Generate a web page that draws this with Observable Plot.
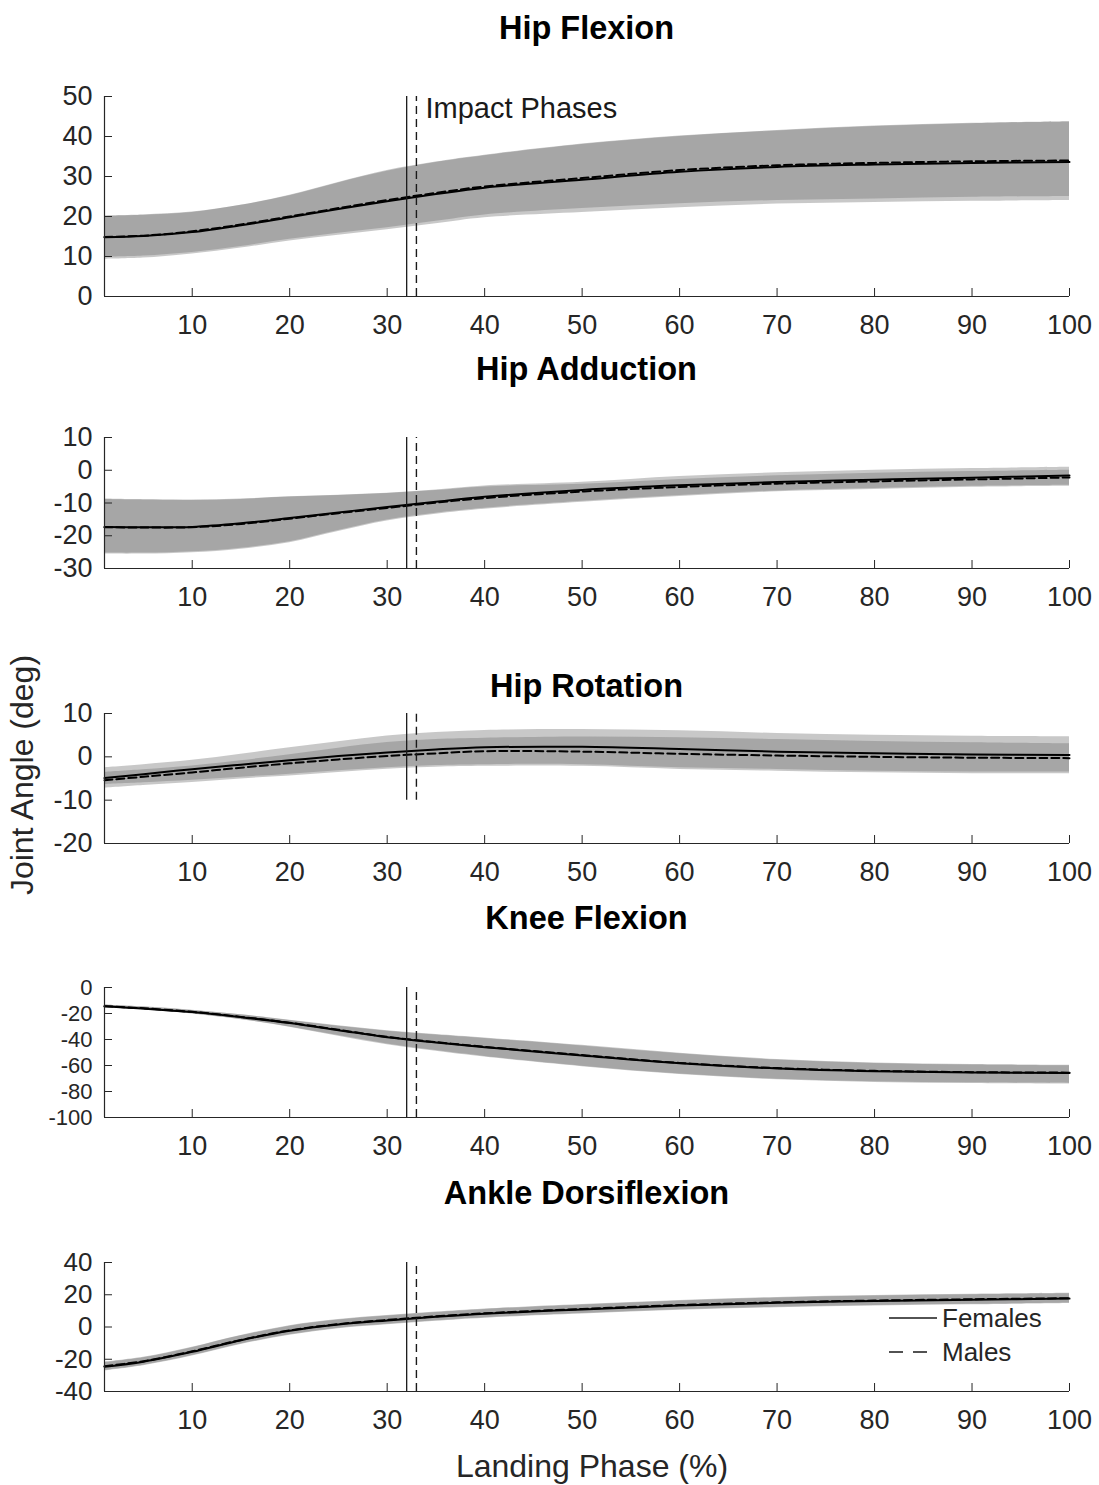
<!DOCTYPE html>
<html><head><meta charset="utf-8">
<script src="https://cdn.jsdelivr.net/npm/d3@7"></script>
<script src="https://cdn.jsdelivr.net/npm/@observablehq/plot@0.6"></script>
<style>
body{margin:0;background:#fff;}
#fig{position:relative;width:1099px;height:1485px;font-family:"Liberation Sans",Arial,Helvetica,sans-serif;overflow:hidden;}
#fig svg{position:absolute;left:0;}
.title{position:absolute;left:104px;width:965px;text-align:center;font-weight:bold;font-size:32.5px;color:#000;line-height:1;transform:translateY(-50%);}
.lab{position:absolute;font-size:32px;color:#262626;line-height:1;white-space:nowrap;}
.leg{position:absolute;font-size:26px;color:#262626;line-height:1;}
</style></head><body><div id="fig"></div>
<script>
// ---- data ----
const phase = [1,5,10,15,20,25,30,35,40,50,60,70,80,90,100];
const panelNames = ["Hip Flexion","Hip Adduction","Hip Rotation","Knee Flexion","Ankle Dorsiflexion"];
const yDomains = [[0,50],[-30,10],[-20,10],[-100,0],[-40,40]];
const yTickValues = [[0,10,20,30,40,50],[-30,-20,-10,0,10],[-20,-10,0,10],[-100,-80,-60,-40,-20,0],[-40,-20,0,20,40]];
const xTickValues = [10,20,30,40,50,60,70,80,90,100];
const impactFemales = 32, impactMales = 33;
const impactSpans = [[0,50],[-30,10],[-10,10],[-100,0],[-40,40]];
const seriesNames = ["Females","Males"];
const xLabel = "Landing Phase (%)", yLabel = "Joint Angle (deg)", impactLabel = "Impact Phases";

// Hip Flexion
const hfFm  = [14.8,15.1,16.1,17.8,19.8,21.9,23.8,25.6,27.2,29.2,31.2,32.4,33.0,33.4,33.6];
const hfMm  = [14.9,15.2,16.3,18.0,20.0,22.1,24.1,25.9,27.5,29.6,31.6,32.8,33.4,33.8,34.0];
const hfFhi = [20.2,20.4,21.1,22.8,25.2,28.4,31.3,33.5,35.2,38.0,40.0,41.4,42.5,43.2,43.6];
const hfFlo = [9.8,10.1,11.0,12.5,14.3,15.8,17.2,18.8,20.4,22.0,23.2,24.0,24.4,24.8,25.0];
const hfMhi = [20.0,20.3,21.0,22.8,25.3,28.5,31.5,33.6,35.3,38.1,40.1,41.5,42.6,43.3,43.7];
const hfMlo = [9.3,9.6,10.6,12.1,13.9,15.3,16.7,18.2,19.7,21.0,22.2,23.1,23.5,23.8,24.0];
// Hip Adduction
const haFm  = [-17.3,-17.4,-17.3,-16.2,-14.6,-12.9,-11.2,-9.6,-8.1,-6.0,-4.6,-3.6,-2.9,-2.3,-1.6];
const haMm  = [-17.4,-17.5,-17.4,-16.4,-14.8,-13.1,-11.5,-9.9,-8.5,-6.5,-5.1,-4.1,-3.4,-2.8,-2.2];
const haFhi = [-8.8,-9.0,-9.1,-8.8,-8.1,-7.6,-7.0,-6.0,-4.8,-3.7,-1.9,-0.8,0.0,0.5,0.9];
const haFlo = [-25.3,-25.3,-24.9,-23.8,-21.8,-18.4,-15.2,-13.1,-11.6,-9.5,-7.7,-6.3,-5.6,-4.9,-4.6];
const haMhi = [-8.9,-9.1,-9.2,-8.9,-8.2,-7.7,-7.1,-6.2,-5.1,-4.3,-2.8,-1.7,-0.9,-0.4,0.0];
const haMlo = [-25.6,-25.6,-25.2,-24.1,-22.1,-18.7,-15.5,-13.4,-11.9,-9.8,-8.0,-6.6,-5.9,-5.2,-4.9];
// Hip Rotation
const hrFm  = [-4.9,-4.0,-2.85,-1.8,-0.8,0.2,1.0,1.7,2.2,2.3,1.8,1.2,0.8,0.55,0.45];
const hrMm  = [-5.4,-4.6,-3.6,-2.5,-1.5,-0.6,0.2,0.8,1.3,1.2,0.7,0.3,0.0,-0.2,-0.3];
const hrFhi = [-2.5,-1.8,-0.8,0.6,2.1,3.5,4.8,5.6,6.1,6.3,6.0,5.4,5.0,4.75,4.6];
const hrFlo = [-6.4,-6.0,-5.4,-4.7,-4.0,-3.2,-2.5,-2.0,-1.8,-1.8,-2.5,-2.9,-3.3,-3.5,-3.5];
const hrMhi = [-3.6,-3.0,-2.1,-0.9,0.5,2.0,3.3,4.0,4.3,4.6,4.4,4.0,3.55,3.25,3.0];
const hrMlo = [-7.2,-6.6,-5.9,-5.1,-4.4,-3.6,-2.85,-2.4,-2.2,-2.2,-2.9,-3.3,-3.7,-3.9,-3.9];
// Knee Flexion
const kfFm  = [-14.5,-16.2,-18.9,-22.8,-27.3,-32.8,-38.3,-42.3,-45.9,-52.3,-58.3,-62.3,-64.4,-65.4,-65.8];
const kfMm  = [-14.4,-16.0,-18.7,-22.6,-27.1,-32.5,-38.0,-42.0,-45.6,-52.0,-58.0,-62.0,-64.1,-65.1,-65.5];
const kfFhi = [-13.5,-15.0,-17.6,-21.0,-25.2,-29.5,-33.2,-36.2,-38.8,-44.5,-50.6,-55.4,-58.0,-59.3,-59.8];
const kfFlo = [-15.5,-17.4,-20.3,-24.8,-30.3,-37.0,-43.5,-48.5,-53.0,-60.5,-66.5,-70.5,-72.5,-73.3,-73.8];
const kfMhi = [-13.4,-14.9,-17.5,-21.0,-25.4,-29.8,-33.6,-36.6,-39.3,-45.0,-51.0,-55.8,-58.4,-59.7,-60.2];
const kfMlo = [-15.4,-17.3,-20.2,-24.7,-30.6,-37.5,-44.0,-49.0,-53.5,-61.0,-67.0,-71.0,-73.0,-73.8,-74.3];
// Ankle Dorsiflexion
const adFm  = [-24.6,-21.5,-15.4,-8.2,-2.3,1.6,4.1,6.3,8.2,10.9,13.3,15.0,16.1,16.9,17.6];
const adMm  = [-24.3,-21.2,-15.1,-8.0,-2.1,1.8,4.4,6.6,8.5,11.2,13.6,15.3,16.4,17.2,17.9];
const adFhi = [-22.0,-19.0,-12.8,-5.5,0.5,4.3,6.8,9.0,10.9,13.7,16.2,18.0,19.2,20.0,20.6];
const adFlo = [-27.2,-24.0,-18.0,-10.9,-5.1,-1.1,1.4,3.6,5.5,8.1,10.4,12.0,13.0,13.8,14.6];
const adMhi = [-21.7,-18.7,-12.5,-5.2,0.8,4.6,7.1,9.3,11.2,14.0,16.5,18.3,19.5,20.3,20.9];
const adMlo = [-26.9,-23.7,-17.7,-10.6,-4.8,-0.8,1.7,3.9,5.8,8.4,10.7,12.3,13.3,14.1,14.9];

const panelSeries = [
  [hfFm,hfFlo,hfFhi,hfMm,hfMlo,hfMhi],
  [haFm,haFlo,haFhi,haMm,haMlo,haMhi],
  [hrFm,hrFlo,hrFhi,hrMm,hrMlo,hrMhi],
  [kfFm,kfFlo,kfFhi,kfMm,kfMlo,kfMhi],
  [adFm,adFlo,adFhi,adMm,adMlo,adMhi]
];

// ---- layout (pixels) ----
const layout = [
  {top:96, bottom:296, titleY:28, yFont:27},
  {top:437, bottom:568, titleY:369, yFont:27},
  {top:713, bottom:843, titleY:686, yFont:27},
  {top:987, bottom:1117, titleY:918, yFont:22},
  {top:1262, bottom:1391, titleY:1193, yFont:26}
];
const MT = 14, MB = 52;
const axisColor = "#262626";
const fontFamily = '"Liberation Sans", Arial, Helvetica, sans-serif';
const fmt = d => String(d);

const fig = document.getElementById("fig");

panelNames.forEach((name, p) => {
  const L = layout[p];
  const [fm, flo, fhi, mm, mlo, mhi] = panelSeries[p];
  const rows = phase.map((x, i) => ({x, fm: fm[i], flo: flo[i], fhi: fhi[i], mm: mm[i], mlo: mlo[i], mhi: mhi[i]}));
  const ymin = yDomains[p][0];
  const span = impactSpans[p];
  const marks = [
    Plot.areaY(rows, {x: "x", y1: "flo", y2: "fhi", fill: "#6e6e6e", fillOpacity: 0.38, curve: "catmull-rom"}),
    Plot.areaY(rows, {x: "x", y1: "mlo", y2: "mhi", fill: "#6e6e6e", fillOpacity: 0.38, curve: "catmull-rom"}),
    Plot.line(rows, {x: "x", y: "fm", stroke: "#000", strokeWidth: 2, curve: "catmull-rom"}),
    Plot.line(rows, {x: "x", y: "mm", stroke: "#000", strokeWidth: 2, strokeDasharray: "8,4", curve: "catmull-rom"}),
    Plot.ruleX([impactFemales], {y1: span[0], y2: span[1], stroke: "#1a1a1a", strokeWidth: 1.3}),
    Plot.ruleX([impactMales], {y1: span[0], y2: span[1], stroke: "#1a1a1a", strokeWidth: 1.4, strokeDasharray: "8,5"}),
    Plot.ruleX([1], {stroke: axisColor, strokeWidth: 1.2}),
    Plot.ruleY([ymin], {stroke: axisColor, strokeWidth: 1.2}),
    Plot.axisX(xTickValues, {tickSize: -8, tickPadding: 26, stroke: axisColor, fill: axisColor, label: null, tickFormat: fmt}),
    Plot.axisY(yTickValues[p], {tickSize: -8, tickPadding: 20, stroke: axisColor, fill: axisColor, label: null, tickFormat: fmt, fontSize: L.yFont})
  ];
  if (p === 0) {
    marks.push(Plot.text([impactLabel], {x: impactMales, y: yDomains[p][1], text: d => d, textAnchor: "start", dx: 9, dy: 12, fontSize: 29, fill: "#1a1a1a"}));
  }
  const svg = Plot.plot({
    width: 1099,
    height: L.bottom - L.top + MT + MB,
    marginLeft: 104, marginRight: 30, marginTop: MT, marginBottom: MB,
    x: {domain: [1, 100]},
    y: {domain: yDomains[p]},
    style: {fontFamily, fontSize: "27px", color: axisColor, background: "transparent", overflow: "visible"},
    marks
  });
  svg.style.top = (L.top - MT) + "px";
  fig.appendChild(svg);
  const t = document.createElement("div");
  t.className = "title";
  t.textContent = name;
  t.style.top = L.titleY + "px";
  fig.appendChild(t);
});

// axis labels
const xl = document.createElement("div");
xl.className = "lab"; xl.textContent = xLabel;
xl.style.left = "592px"; xl.style.top = "1466px"; xl.style.transform = "translate(-50%,-50%)";
fig.appendChild(xl);
const yl = document.createElement("div");
yl.className = "lab"; yl.textContent = yLabel;
yl.style.left = "22px"; yl.style.top = "775px"; yl.style.transform = "translate(-50%,-50%) rotate(-90deg)";
fig.appendChild(yl);

// legend
const legendRows = [{y: 1318, dash: null}, {y: 1352, dash: "14,10"}];
legendRows.forEach((r, i) => {
  const s = document.createElementNS("http://www.w3.org/2000/svg", "svg");
  s.setAttribute("width", 50); s.setAttribute("height", 6);
  s.style.position = "absolute"; s.style.left = "889px"; s.style.top = (r.y - 3) + "px";
  const ln = document.createElementNS("http://www.w3.org/2000/svg", "line");
  ln.setAttribute("x1", 0); ln.setAttribute("x2", 48); ln.setAttribute("y1", 3); ln.setAttribute("y2", 3);
  ln.setAttribute("stroke", "#1a1a1a"); ln.setAttribute("stroke-width", 1.5);
  if (r.dash) ln.setAttribute("stroke-dasharray", r.dash);
  s.appendChild(ln);
  fig.appendChild(s);
  const tx = document.createElement("div");
  tx.className = "leg"; tx.textContent = seriesNames[i];
  tx.style.left = "942px"; tx.style.top = r.y + "px"; tx.style.transform = "translateY(-50%)";
  fig.appendChild(tx);
});
</script>
</body></html>
